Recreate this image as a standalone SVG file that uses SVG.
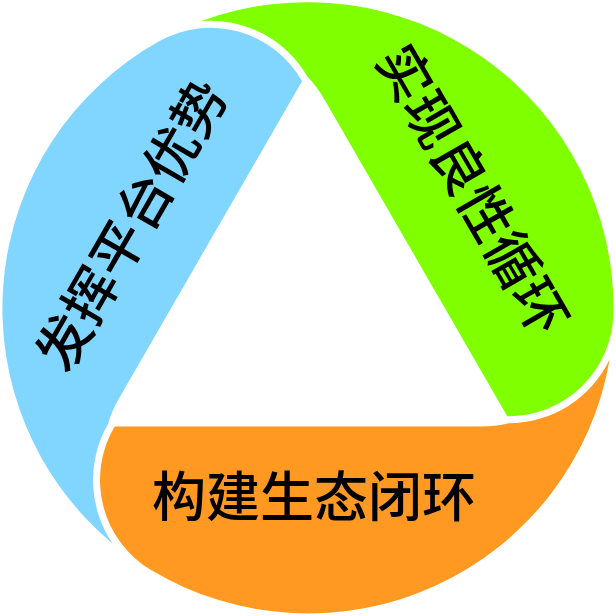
<svg xmlns="http://www.w3.org/2000/svg" xmlns:xlink="http://www.w3.org/1999/xlink" width="616" height="616" viewBox="0 0 616 616">
<style>
.label { font-family: "Liberation Sans", "Noto Sans CJK SC", sans-serif; font-size: 54px; font-weight: 500; fill: #000000; text-anchor: middle; dominant-baseline: central; }
</style>
<defs>
<path id="seg" d="M 114.65,426.5 A 105 105 0 0 0 151.1,570.1 A 306 306 0 0 0 609.7,359.3 A 112 112 0 0 1 508.5,423.2 Q 496,426.5 480,426.5 Z"/>
</defs>
<rect width="616" height="616" fill="#ffffff"/>
<g id="connectors"/>
<g id="node-blue">
<use href="#seg" xlink:href="#seg" transform="rotate(120 308 308)" fill="#80D6FF"/>
<text class="label" transform="translate(132 225.5) rotate(-60)">发挥平台优势</text>
</g>
<g id="node-green">
<use href="#seg" xlink:href="#seg" transform="rotate(240 308 308)" fill="#80FF00"/>
<text class="label" transform="translate(471.6 190) rotate(60)">实现良性循环</text>
</g>
<g id="node-orange">
<use href="#seg" xlink:href="#seg" fill="#FF9922"/>
<text class="label" transform="translate(314 497.5)">构建生态闭环</text>
</g>
</svg>
